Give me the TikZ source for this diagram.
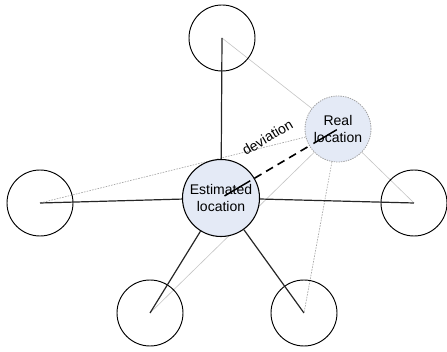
\documentclass[tikz,border=0pt]{standalone}
\usepackage{fontspec}
\setmainfont{Liberation Sans}
\usetikzlibrary{calc,backgrounds}
\begin{document}
\begin{tikzpicture}[x=0.75pt, y=-0.75pt,
    anchornode/.style={circle, draw=black, line width=0.7pt, minimum size=49.5pt, inner sep=0pt},
    estnode/.style={circle, draw=black, line width=0.8pt, fill=est-fill, minimum size=57.75pt, inner sep=0pt, align=center},
    realnode/.style={circle, draw=real-border, dash pattern=on 1pt off 0.8pt, line width=0.6pt, fill=est-fill, minimum size=49.5pt, inner sep=0pt, align=center},
    spoke/.style={line width=0.9pt, color=black!85},
    graysolid/.style={line width=0.45pt, color=light-gray},
    graydot/.style={line width=0.5pt, color=dot-gray, dash pattern=on 1.2pt off 0.9pt},
    devline/.style={line width=1.2pt, dash pattern=on 6pt off 4pt}]
    \definecolor{est-fill}{HTML}{E4EAF6}
    \definecolor{real-border}{HTML}{A0A0A0}
    \definecolor{light-gray}{HTML}{C4C4C4}
    \definecolor{dot-gray}{HTML}{A8A8A8}
    \useasboundingbox (0,0) rectangle (447,352);
    \fontsize{10.5}{12.3}\selectfont
    \node[anchornode] (top) at (222,38) {};
    \node[anchornode] (left) at (40,203) {};
    \node[anchornode] (right) at (414,203) {};
    \node[anchornode] (botl) at (150,313) {};
    \node[anchornode] (botr) at (304,313) {};
    \node[estnode] (est) at (221,198) {Estimated\\location};
    \node[realnode] (real) at (338,129) {Real\\location};
    \begin{scope}[on background layer]
      \draw[graysolid] (real) -- (top.center);
      \draw[graydot]   (real) -- (left.center);
      \draw[graysolid] (real) -- (botl.center);
      \draw[graydot]   (real) -- (botr.center);
      \draw[graysolid] (real) -- (right.center);
    \end{scope}
    \draw[spoke] (est) -- (top.center);
    \draw[spoke] (est) -- (left.center);
    \draw[spoke] (est) -- (right.center);
    \draw[spoke] (est) -- (botl.center);
    \draw[spoke] (est) -- (botr.center);
    \draw[devline] (est) -- (real) node[midway, sloped, above=17pt, inner sep=0pt] {deviation};
    \draw[line width=1.1pt] ($(est.center)!0.03!(real.center)$) -- ($(est.center)!0.25!(real.center)$);
    \draw[line width=1.1pt] ($(est.center)!0.79!(real.center)$) -- ($(est.center)!0.99!(real.center)$);
\end{tikzpicture}
\end{document}
